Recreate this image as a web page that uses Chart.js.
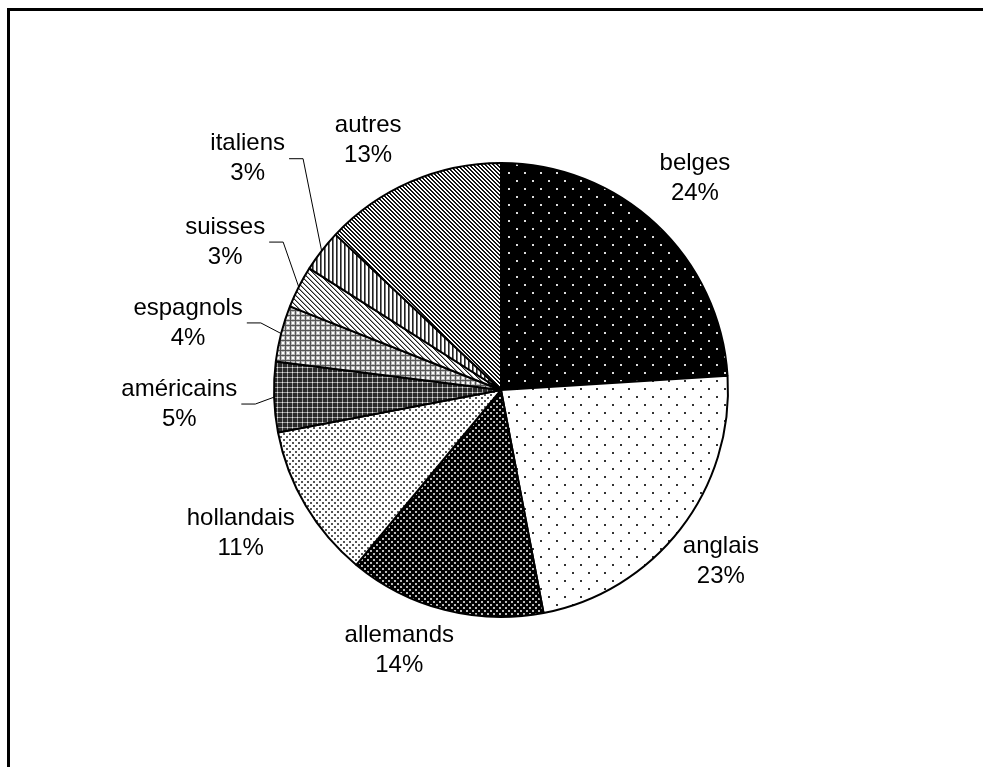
<!DOCTYPE html>
<html>
<head>
<meta charset="utf-8">
<script src="https://cdn.jsdelivr.net/npm/chart.js@4.4.1/dist/chart.umd.min.js"></script>
<style>
  html, body { margin: 0; padding: 0; background: #fff; overflow: hidden; }
  #frame {
    position: absolute; left: 7px; top: 8px;
    width: 2000px; height: 2000px;
    border-left: 3px solid #000; border-top: 3px solid #000;
  }
  #pie { position: absolute; left: 0; top: 0; }
</style>
</head>
<body>
<div id="frame"></div>
<canvas id="pie" width="983" height="767"></canvas>
<script>
// nationalités (part en %)
const categories = ['belges', 'anglais', 'allemands', 'hollandais', 'américains',
                    'espagnols', 'suisses', 'italiens', 'autres'];
const shares = [24, 23, 14, 11, 5, 4, 3, 3, 13];

// décalage des étiquettes : [distance au bord du camembert, rotation en degrés]
const labelNudge = [[60, -0.7], [52, 0.2], [53, 6.9], [70, 1.8], [95, -0.7],
                    [93, -2.3], [86, 1.2], [116, 4.6], [56, -4.6]];

// petites tuiles pour les motifs noir et blanc
function tile(w, h, draw) {
  const c = document.createElement('canvas');
  c.width = w; c.height = h;
  const g = c.getContext('2d');
  draw(g);
  return g.createPattern(c, 'repeat');
}

const patterns = [
  // belges : fond noir, points blancs
  tile(16, 16, g => {
    g.fillStyle = '#000'; g.fillRect(0, 0, 16, 16);
    g.fillStyle = '#ddd'; g.fillRect(4, 4, 2, 2); g.fillRect(12, 12, 2, 2);
  }),
  // anglais : fond blanc, points noirs espacés
  tile(16, 16, g => {
    g.fillStyle = '#fff'; g.fillRect(0, 0, 16, 16);
    g.fillStyle = '#333'; g.fillRect(4, 4, 2, 2); g.fillRect(12, 12, 2, 2);
  }),
  // allemands : fond noir, points blancs serrés
  tile(6, 6, g => {
    g.fillStyle = '#000'; g.fillRect(0, 0, 6, 6);
    g.fillStyle = '#bbb'; g.fillRect(1, 1, 2, 2); g.fillRect(4, 4, 2, 2);
  }),
  // hollandais : fond blanc, points serrés
  tile(6, 6, g => {
    g.fillStyle = '#fff'; g.fillRect(0, 0, 6, 6);
    g.fillStyle = '#555'; g.fillRect(1, 1, 2, 2); g.fillRect(4, 4, 2, 2);
  }),
  // américains : quadrillage foncé
  tile(5, 5, g => {
    g.fillStyle = '#2a2a2a'; g.fillRect(0, 0, 5, 5);
    g.fillStyle = '#999'; g.fillRect(0, 2, 5, 1); g.fillRect(2, 0, 1, 5);
    g.fillStyle = '#eee'; g.fillRect(2, 2, 1, 1);
  }),
  // espagnols : quadrillage clair
  tile(5, 5, g => {
    g.fillStyle = '#bbb'; g.fillRect(0, 0, 5, 5);
    g.fillStyle = '#555'; g.fillRect(0, 0, 5, 1); g.fillRect(0, 0, 1, 5);
    g.fillStyle = '#fff'; g.fillRect(2, 2, 2, 2);
  }),
  // suisses : fines diagonales
  tile(5, 5, g => {
    g.fillStyle = '#fff'; g.fillRect(0, 0, 5, 5);
    for (let i = 0; i < 5; i++) {
      g.fillStyle = '#222'; g.fillRect(i, i, 1, 1);
      g.fillStyle = '#999'; g.fillRect((i + 1) % 5, i, 1, 1);
    }
  }),
  // italiens : rayures verticales
  tile(4, 1, g => {
    g.fillStyle = '#fff'; g.fillRect(0, 0, 4, 1);
    g.fillStyle = '#222'; g.fillRect(0, 0, 1, 1);
    g.fillStyle = '#777'; g.fillRect(1, 0, 1, 1);
  }),
  // autres : diagonales foncées
  tile(4, 4, g => {
    g.fillStyle = '#fff'; g.fillRect(0, 0, 4, 4);
    g.fillStyle = '#111';
    for (let i = 0; i < 4; i++) {
      g.fillRect(i, i, 1, 1);
      g.fillRect((i + 1) % 4, i, 1, 1);
    }
  }),
];

const FONT = '24px "Liberation Sans", Arial, sans-serif';
const LINE_H = 30;

const outsideLabels = {
  id: 'outsideLabels',
  afterDatasetsDraw(chart) {
    const ctx = chart.ctx;
    const meta = chart.getDatasetMeta(0);
    const values = chart.data.datasets[0].data;
    ctx.save();
    ctx.font = FONT;
    ctx.fillStyle = '#000';
    ctx.textAlign = 'center';
    ctx.textBaseline = 'middle';
    meta.data.forEach((arc, i) => {
      const p = arc.getProps(['x', 'y', 'startAngle', 'endAngle', 'outerRadius'], true);
      const mid = (p.startAngle + p.endAngle) / 2;
      const [gap, turn] = labelNudge[i];
      const a = mid + turn * Math.PI / 180;
      const d = p.outerRadius + gap;
      const cx = p.x + Math.cos(a) * d;
      const cy = p.y + Math.sin(a) * d;
      const lines = [chart.data.labels[i], values[i] + '%'];
      ctx.fillText(lines[0], cx, cy - LINE_H / 2);
      ctx.fillText(lines[1], cx, cy + LINE_H / 2);

      // trait de rappel pour les petites parts
      if (values[i] <= 5) {
        const w = Math.max(...lines.map(t => ctx.measureText(t).width));
        const right = cx + w / 2 + 4;
        ctx.beginPath();
        ctx.lineWidth = 1;
        ctx.strokeStyle = '#000';
        ctx.moveTo(right, cy);
        ctx.lineTo(right + 14, cy);
        ctx.lineTo(p.x + Math.cos(mid) * p.outerRadius, p.y + Math.sin(mid) * p.outerRadius);
        ctx.stroke();
      }
    });
    ctx.restore();
  },
};

new Chart(document.getElementById('pie').getContext('2d'), {
  type: 'pie',
  data: {
    labels: categories,
    datasets: [{
      data: shares,
      backgroundColor: patterns,
      borderColor: '#000',
      borderWidth: 2,
    }],
  },
  options: {
    responsive: false,
    animation: false,
    layout: { padding: { left: 273, right: 254, top: 162, bottom: 149 } },
    plugins: {
      legend: { display: false },
      tooltip: { enabled: false },
    },
  },
  plugins: [outsideLabels],
});
</script>
</body>
</html>
